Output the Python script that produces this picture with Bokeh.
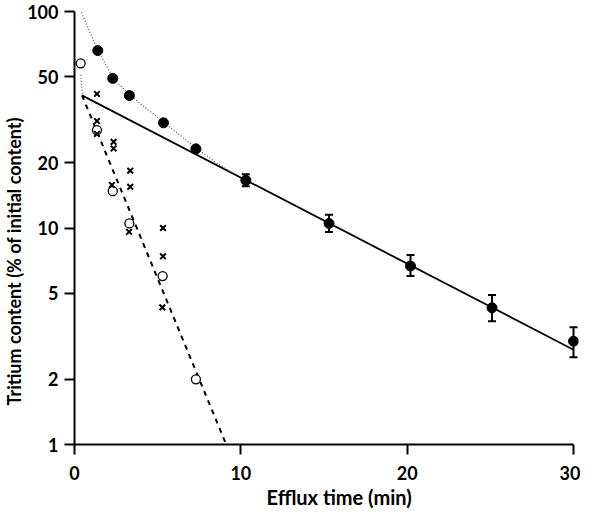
import math
from bokeh.plotting import figure
from bokeh.models import (Range1d, FixedTicker, CustomJSTickFormatter, Title,
                          Whisker, ColumnDataSource, TeeHead)
from bokeh.embed import file_html
from bokeh.resources import INLINE

# ---- data ----
# filled circles (total efflux, mean +- s.e.)
filled_t = [1.4, 2.3, 3.3, 5.35, 7.3, 10.3, 15.3, 20.2, 25.1, 30.0]
filled_y = [66, 49.1, 40.9, 30.6, 23.2, 16.6, 10.5, 6.67, 4.28, 3.0]
err_t = [10.3, 15.3, 20.2, 25.1, 30.0]
err_hi = [17.7, 11.5, 7.5, 4.9, 3.48]
err_lo = [15.6, 9.58, 6.0, 3.71, 2.53]

# open circles (fast component)
open_t = [0.37, 1.35, 2.3, 3.3, 5.3, 7.3]
open_y = [57.6, 28.3, 14.8, 10.5, 6.0, 2.0]

# crosses
cross_t = [1.35, 1.35, 1.35, 2.35, 2.35, 2.25, 3.35, 3.35, 3.28, 5.32, 5.32, 5.28]
cross_y = [41.6, 31.2, 27.2, 25.0, 23.3, 15.8, 18.4, 15.5, 9.6, 10.0, 7.4, 4.3]

# fitted lines
slow_t = [0.45, 30.0]
slow_y = [41.0, 2.74]
fast_t = [0.45, 9.12]
fast_y = [41.0, 1.0]
dotted_t = [0.42, 0.9, 1.4, 2.3, 3.3, 5.35, 7.3, 8.4, 9.6]
dotted_y = [99.0, 81.0, 66.5, 49.5, 41.2, 30.8, 23.5, 20.3, 17.8]
dotted2_t = [0.38, 0.48]
dotted2_y = [51.0, 41.0]

x_ticks = [0, 10, 20, 30]
y_ticks = [1, 2, 5, 10, 20, 50, 100]
x_title = "Efflux time (min)"
y_title = "Tritium content (% of initial content)"

FONT = "Lato"

p = figure(width=580, height=508, output_backend="svg", toolbar_location=None,
           y_axis_type="log", x_range=Range1d(0, 30.3), y_range=Range1d(1, 100),
           min_border_left=68, min_border_right=2, min_border_top=11,
           min_border_bottom=60)
p.outline_line_color = None
p.grid.visible = False
p.background_fill_color = "white"

for ax in (p.xaxis[0], p.yaxis[0]):
    ax.axis_line_width = 2
    ax.axis_line_color = "black"
    ax.major_tick_line_width = 2
    ax.major_tick_line_color = "black"
    ax.major_tick_out = 10
    ax.major_tick_in = 0
    ax.minor_tick_out = 0
    ax.minor_tick_in = 0
    ax.major_label_text_font = FONT
    ax.major_label_text_font_style = "bold"
    ax.major_label_text_font_size = "18px"
    ax.major_label_text_color = "black"
    ax.formatter = CustomJSTickFormatter(code="return String(Math.round(tick));")

p.xaxis[0].ticker = FixedTicker(ticks=x_ticks)
p.xaxis[0].bounds = (0, 30)
p.xaxis[0].major_label_standoff = 11
p.yaxis[0].ticker = FixedTicker(ticks=y_ticks)
p.yaxis[0].bounds = (1, 100)
p.yaxis[0].major_label_standoff = 6

# lines
p.line(slow_t, slow_y, line_color="black", line_width=1.8)
p.line(fast_t, fast_y, line_color="black", line_width=2, line_dash="5 5")
p.line(dotted_t, dotted_y, line_color="#555555", line_width=1.2, line_dash="1 2")
p.line(dotted2_t, dotted2_y, line_color="#555555", line_width=1.2, line_dash="1 2")

# error bars
src = ColumnDataSource(dict(t=err_t, hi=err_hi, lo=err_lo))
wh = Whisker(source=src, base="t", upper="hi", lower="lo", line_width=2,
             line_color="black",
             upper_head=TeeHead(size=8, line_width=2, line_color="black"),
             lower_head=TeeHead(size=8, line_width=2, line_color="black"))
p.add_layout(wh)

# markers
p.scatter(filled_t, filled_y, marker="circle", size=10, fill_color="black",
          line_color="black")
p.scatter(open_t, open_y, marker="circle", size=9, fill_color="white",
          line_color="black", line_width=1.3)
p.scatter(cross_t, cross_y, marker="x", size=8, line_color="black", line_width=2)

# axis titles
p.add_layout(Title(text=x_title, text_font=FONT, text_font_style="bold",
                   text_font_size="20px", align="left", offset=192, standoff=0,
                   text_color="black"), "below")
p.add_layout(Title(text=y_title, text_font=FONT, text_font_style="bold",
                   text_font_size="18px", align="left", offset=39, standoff=0,
                   text_color="black"), "left")

open("out.html", "w").write(file_html(p, INLINE))
